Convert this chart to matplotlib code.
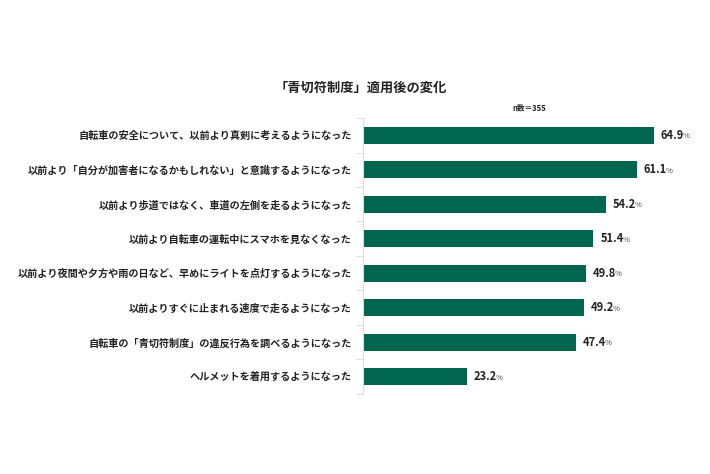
import matplotlib
matplotlib.use('Agg')
import matplotlib.pyplot as plt
import numpy as np

plt.rcParams['font.family'] = ['Noto Sans CJK JP', 'DejaVu Sans']

labels = [
    '自転車の安全について、以前より真剣に考えるようになった',
    '以前より「自分が加害者になるかもしれない」と意識するようになった',
    '以前より歩道ではなく、車道の左側を走るようになった',
    '以前より自転車の運転中にスマホを見なくなった',
    '以前より夜間や夕方や雨の日など、早めにライトを点灯するようになった',
    '以前よりすぐに止まれる速度で走るようになった',
    '自転車の「青切符制度」の違反行為を調べるようになった',
    'ヘルメットを着用するようになった',
]
values = [64.9, 61.1, 54.2, 51.4, 49.8, 49.2, 47.4, 23.2]

title = '「青切符制度」適用後の変化'
n_text = 'n数＝355'
bar_color = '#00664f'

fig = plt.figure(figsize=(7.1, 4.74), dpi=100)
ax = fig.add_axes([0.511, 0.169, 0.474, 0.582])

y = np.arange(len(labels))
ax.barh(y, values, height=0.5, color=bar_color)
ax.set_ylim(len(labels) - 0.5, -0.5)
ax.set_xlim(0, 75)

ax.set_yticks(y)
ax.set_yticklabels(labels, fontsize=7.3, fontweight='bold', color='#222222')
ax.tick_params(axis='y', which='major', length=0, pad=8)
ax.set_yticks(np.arange(-0.5, len(labels), 1.0), minor=True)
ax.tick_params(axis='y', which='minor', length=5, color='#e0e0e0', width=0.8)
ax.set_xticks([])

for s in ['top', 'right', 'bottom']:
    ax.spines[s].set_visible(False)
ax.spines['left'].set_color('#dcdcdc')
ax.spines['left'].set_linewidth(0.8)

for yi, v in zip(y, values):
    t = ax.annotate(f'{v:.1f}', xy=(v, yi), xytext=(5, 0), textcoords='offset points',
                    va='center', ha='left', fontsize=8, fontweight='bold', color='#222222')
    ax.annotate('%', xy=(1, 0.12), xycoords=t, xytext=(-1, 0), textcoords='offset points',
                va='bottom', ha='left', fontsize=5.5, color='#444444')

fig.text(0.508, 0.814, title, ha='center', va='center', fontsize=9.5,
         fontweight='bold', color='#222222')
fig.text(0.746, 0.772, n_text, ha='center', va='center', fontsize=5.5,
         fontweight='bold', color='#222222')

fig.savefig('out.png', dpi=100, facecolor='white')
